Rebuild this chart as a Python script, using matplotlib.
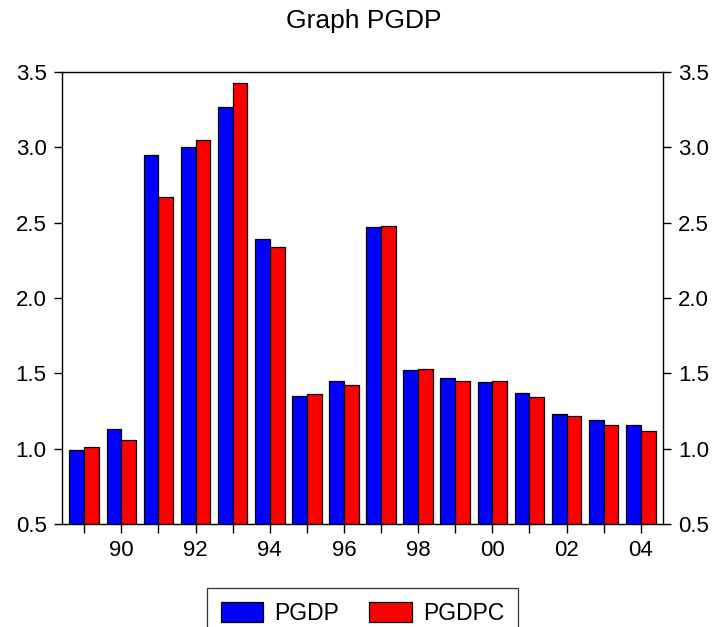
import numpy as np
import matplotlib
matplotlib.use('Agg')
import matplotlib.pyplot as plt

plt.rcParams['font.family'] = ['Liberation Sans', 'DejaVu Sans']

# data
years = np.arange(1989, 2005)
pgdp = [0.99, 1.13, 2.95, 3.00, 3.27, 2.39, 1.35, 1.45,
        2.47, 1.52, 1.47, 1.44, 1.37, 1.23, 1.19, 1.16]
pgdpc = [1.01, 1.06, 2.67, 3.05, 3.43, 2.34, 1.36, 1.42,
         2.48, 1.53, 1.45, 1.45, 1.34, 1.22, 1.16, 1.12]
tick_labels = [f"{y % 100:02d}" if y % 2 == 0 else "" for y in years]
y_ticks = [0.5, 1.0, 1.5, 2.0, 2.5, 3.0, 3.5]

W, H = 715, 627
fig = plt.figure(figsize=(W / 100, H / 100), dpi=100)
ax = fig.add_axes([62 / W, 1 - 524 / H, (663 - 62) / W, (524 - 72) / H])

w = 0.4
ax.bar(years - w / 2, pgdp, width=w, color='#0000ff', edgecolor='black',
       linewidth=0.9, label='PGDP')
ax.bar(years + w / 2, pgdpc, width=w, color='#ff0000', edgecolor='black',
       linewidth=0.9, label='PGDPC')

ax.set_xlim(1988.4, 2004.6)
ax.set_ylim(0.5, 3.5)
ax.set_xticks(years)
ax.set_xticklabels(tick_labels)
ax.set_yticks(y_ticks)
ax.set_yticklabels([f"{v:.1f}" for v in y_ticks])

ax.tick_params(axis='x', direction='out', length=6.5, width=1.0,
               labelsize=16, pad=5)
ax.tick_params(axis='y', direction='out', length=6, width=1.0,
               labelsize=16, pad=5, right=True, labelright=True)
for s in ax.spines.values():
    s.set_linewidth(1.0)

fig.text(364 / W, 1 - 28 / H, 'Graph PGDP', ha='center', va='baseline',
         fontsize=19)

leg = fig.legend(loc='upper center', bbox_to_anchor=(362.5 / W, 1 - 588 / H),
                 ncol=2, fontsize=16.5, handlelength=1.85, handleheight=1.0,
                 handletextpad=0.5, columnspacing=1.3, borderpad=0.6,
                 borderaxespad=0, fancybox=False, framealpha=1,
                 edgecolor='#333333')
leg.get_frame().set_linewidth(0.9)

fig.savefig('out.png', dpi=100)
